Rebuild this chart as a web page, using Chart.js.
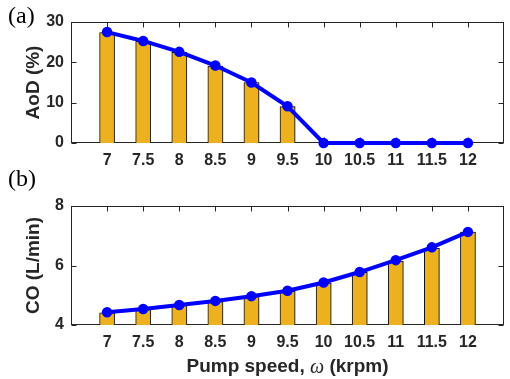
<!DOCTYPE html>
<html>
<head>
<meta charset="utf-8">
<script src="https://cdn.jsdelivr.net/npm/chart.js@4.4.1/dist/chart.umd.min.js"></script>
<style>
  html, body { margin: 0; padding: 0; background: #fff; }
  #wrap { position: relative; width: 510px; height: 379px; }
  canvas { position: absolute; left: 0; }
</style>
</head>
<body>
<div id="wrap">
  <canvas id="chartA" width="510" height="170" style="top:0"></canvas>
  <canvas id="chartB" width="510" height="209" style="top:170px"></canvas>
</div>
<script>
// pump speed (krpm)
const speeds = [7, 7.5, 8, 8.5, 9, 9.5, 10, 10.5, 11, 11.5, 12];
// (a) AoD, %
const aodBars = [27.4, 25.2, 22.5, 19.1, 15.0, 9.0, 0, 0, 0, 0, 0];
const aodLine = [27.5, 25.3, 22.6, 19.2, 15.0, 9.1, 0, 0, 0, 0, 0];
// (b) CO, L/min
const coBars = [4.41, 4.52, 4.65, 4.79, 4.95, 5.13, 5.41, 5.77, 6.15, 6.58, 7.12];
const coLine = [4.43, 4.54, 4.67, 4.81, 4.97, 5.15, 5.43, 5.78, 6.18, 6.61, 7.13];

const aodTicks = [0, 10, 20, 30];
const coTicks = [4, 6, 8];

const ink = '#262626';
const sans = '"Liberation Sans", Arial, Helvetica, sans-serif';
const serif = '"Liberation Serif", "Times New Roman", serif';

const pts = (ys) => speeds.map((x, i) => ({ x: x, y: ys[i] }));

// matlab style box with inward ticks
const boxPlugin = {
  id: 'box',
  beforeDatasetsDraw(chart) {
    const { ctx, chartArea: a, scales } = chart;
    const L = Math.round(a.left) + 0.5, R = Math.round(a.right) - 0.5;
    const T = Math.round(a.top) + 0.5, B = Math.round(a.bottom) - 0.5;
    ctx.save();
    ctx.strokeStyle = ink;
    ctx.lineWidth = 1;
    ctx.strokeRect(L, T, R - L, B - T);
    ctx.beginPath();
    speeds.forEach(v => {
      const px = Math.round(scales.x.getPixelForValue(v)) + 0.5;
      ctx.moveTo(px, B); ctx.lineTo(px, B - 5);
      ctx.moveTo(px, T); ctx.lineTo(px, T + 5);
    });
    scales.y.ticks.forEach(t => {
      const py = Math.round(scales.y.getPixelForValue(t.value)) + 0.5;
      ctx.moveTo(L, py); ctx.lineTo(L + 5, py);
      ctx.moveTo(R, py); ctx.lineTo(R - 5, py);
    });
    ctx.stroke();
    ctx.restore();
  }
};

// gray drop shadow on the bars
const shadowPlugin = {
  id: 'barShadow',
  beforeDatasetDraw(chart, args) {
    if (args.meta.type !== 'bar') return;
    const ctx = chart.ctx;
    ctx.save();
    ctx.shadowColor = 'rgba(60,60,60,0.55)';
    ctx.shadowOffsetX = 2;
    ctx.shadowOffsetY = 0;
    ctx.shadowBlur = 0;
  },
  afterDatasetDraw(chart, args) {
    if (args.meta.type !== 'bar') return;
    chart.ctx.restore();
  }
};

const panelLabel = {
  id: 'panelLabel',
  afterDraw(chart, args, opts) {
    const ctx = chart.ctx;
    ctx.save();
    ctx.fillStyle = '#000';
    ctx.font = '24px ' + serif;
    ctx.textBaseline = 'middle';
    ctx.fillText(opts.text, 8, opts.y);
    ctx.restore();
  }
};

const xTitle = {
  id: 'xTitle',
  afterDraw(chart, args, opts) {
    if (!opts.show) return;
    const ctx = chart.ctx;
    const a = chart.chartArea;
    const p1 = 'Pump speed, ', p2 = '\u03C9', p3 = ' (krpm)';
    const f1 = 'bold 19px ' + sans, f2 = 'italic 20px ' + serif;
    ctx.save();
    ctx.font = f1; const w1 = ctx.measureText(p1).width, w3 = ctx.measureText(p3).width;
    ctx.font = f2; const w2 = ctx.measureText(p2).width;
    let x = (a.left + a.right) / 2 - (w1 + w2 + w3) / 2;
    const y = opts.y;
    ctx.fillStyle = ink;
    ctx.textBaseline = 'middle';
    ctx.font = f1; ctx.fillText(p1, x, y); x += w1;
    ctx.font = f2; ctx.fillText(p2, x, y + 1); x += w2;
    ctx.font = f1; ctx.fillText(p3, x, y);
    ctx.restore();
  }
};

function makeChart(id, opt) {
  return new Chart(document.getElementById(id), {
    type: 'bar',
    data: {
      datasets: [
        {
          type: 'line',
          data: pts(opt.line),
          borderColor: '#0000FF',
          backgroundColor: '#0000FF',
          borderWidth: 4,
          pointRadius: 4.5,
          pointBorderWidth: 1.5,
          pointBorderColor: '#0000FF',
          pointBackgroundColor: '#0000FF',
          clip: false,
          order: 0
        },
        {
          data: pts(opt.bars),
          backgroundColor: '#EDB120',
          borderColor: '#111',
          borderWidth: 1,
          barThickness: 15,
          order: 1
        }
      ]
    },
    options: {
      responsive: false,
      animation: false,
      devicePixelRatio: 1,
      layout: { padding: { top: opt.top, right: 0, bottom: 0, left: 0 } },
      plugins: {
        legend: { display: false },
        tooltip: { enabled: false },
        panelLabel: { text: opt.label, y: opt.labelY },
        xTitle: { show: opt.xTitle, y: 197 }
      },
      scales: {
        x: {
          type: 'linear',
          min: 6.5,
          max: 12.5,
          offset: false,
          grid: { display: false, drawTicks: false },
          border: { display: false },
          afterBuildTicks: s => { s.ticks = speeds.map(v => ({ value: v })); },
          afterFit: s => { s.height = opt.xHeight; },
          ticks: {
            padding: 8,
            color: ink,
            font: { family: sans, size: 16, weight: 'bold' },
            maxRotation: 0,
            autoSkip: false,
            callback: v => String(v)
          }
        },
        y: {
          min: opt.ymin,
          max: opt.ymax,
          grid: { display: false, drawTicks: false },
          border: { display: false },
          afterBuildTicks: s => { s.ticks = opt.yticks.map(v => ({ value: v })); },
          afterFit: s => { s.width = 71; },
          ticks: {
            padding: 7,
            color: ink,
            font: { family: sans, size: 16, weight: 'bold' },
            callback: v => String(v)
          },
          title: {
            display: true,
            text: opt.ytitle,
            color: ink,
            font: { family: sans, size: 19, weight: 'bold' },
            padding: { top: 22, bottom: 0 }
          }
        }
      }
    },
    plugins: [boxPlugin, shadowPlugin, panelLabel, xTitle]
  });
}

makeChart('chartA', {
  line: aodLine, bars: aodBars, yticks: aodTicks, ymin: 0, ymax: 30,
  ytitle: 'AoD (%)', label: '(a)', labelY: 17, top: 22, xHeight: 27, xTitle: false
});

makeChart('chartB', {
  line: coLine, bars: coBars, yticks: coTicks, ymin: 4, ymax: 8,
  ytitle: 'CO (L/min)', label: '(b)', labelY: 10, top: 36, xHeight: 54, xTitle: true
});
</script>
</body>
</html>
